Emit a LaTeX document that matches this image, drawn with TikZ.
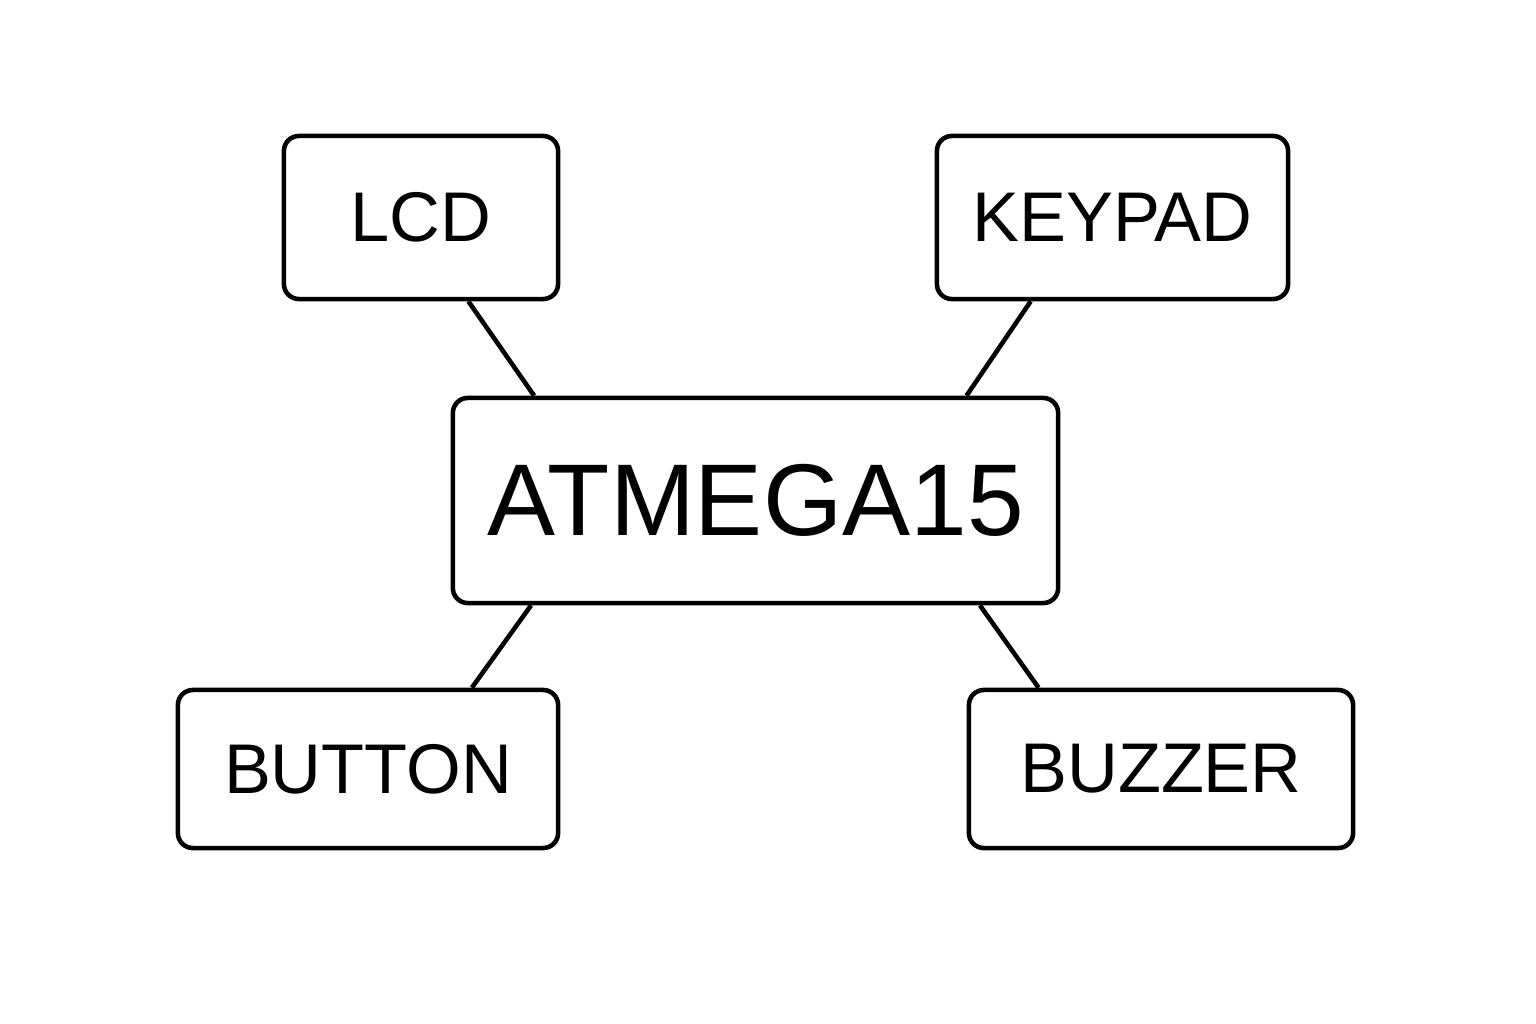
\documentclass[tikz,border=0pt]{standalone}
\usepackage{fontspec}
\setmainfont{Liberation Sans}
\usetikzlibrary{positioning, calc}
\tikzset{%
	part/.style={
		draw,
		line width=1.3pt,
		rounded corners=0.15cm,
		inner sep=0pt
	},
	link/.style={line width=1.3pt},
}

\begin{document}
\begin{tikzpicture}[x=0.01cm,y=-0.01cm]
			\useasboundingbox (0,0) rectangle (1536,1024);
			% Controller in the middle
			\node[part, minimum width=6.05cm, minimum height=2.05cm,
				font=\fontsize{29}{32}\selectfont] (mcu) at (755.5,500.5) {ATMEGA15};
			
			% Peripherals
			\node[part, minimum width=2.74cm, minimum height=1.63cm,
				font=\fontsize{20}{24}\selectfont] (lcd) at (421,217.5) {LCD};
			\node[part, minimum width=3.51cm, minimum height=1.63cm,
				font=\fontsize{20}{24}\selectfont] (keypad) at (1112.5,217.5) {KEYPAD};
			\node[part, minimum width=3.80cm, minimum height=1.58cm,
				font=\fontsize{20}{24}\selectfont] (button) at (368,769) {BUTTON};
			\node[part, minimum width=3.84cm, minimum height=1.58cm,
				font=\fontsize{20}{24}\selectfont] (buzzer) at (1161,769) {BUZZER};
			
			% Links to the controller
			\draw[link] ($(lcd.south west)!0.67!(lcd.south east)$) -- ($(mcu.north west)!0.137!(mcu.north east)$);
			\draw[link] ($(keypad.south west)!0.27!(keypad.south east)$) -- ($(mcu.north west)!0.846!(mcu.north east)$);
			\draw[link] ($(button.north west)!0.77!(button.north east)$) -- ($(mcu.south west)!0.132!(mcu.south east)$);
			\draw[link] ($(buzzer.north west)!0.185!(buzzer.north east)$) -- ($(mcu.south west)!0.868!(mcu.south east)$);
\end{tikzpicture}
\end{document}
